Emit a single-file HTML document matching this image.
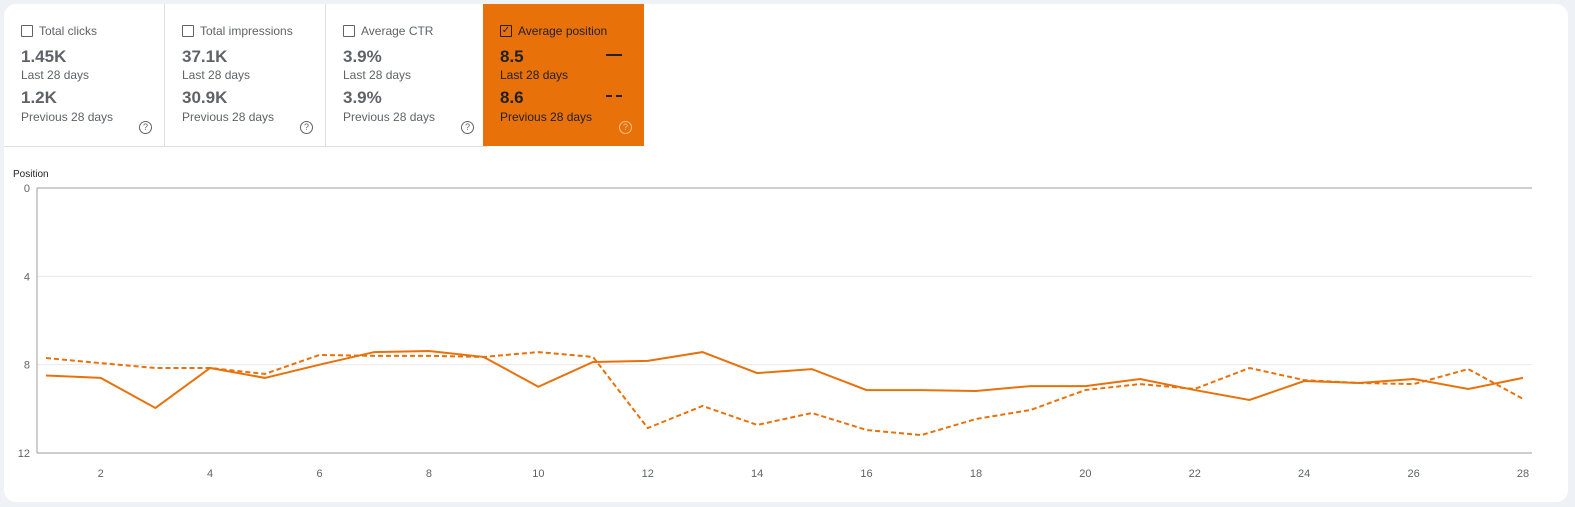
<!DOCTYPE html>
<html><head><meta charset="utf-8"><style>
body{margin:0;width:1575px;height:507px;background:#eef1f6;font-family:"Liberation Sans",sans-serif;overflow:hidden}
.card{position:absolute;left:4px;top:4px;width:1564px;height:498px;background:#fff;border-radius:12px;overflow:hidden}
.tile{position:absolute;top:0;width:160px;height:142px;border-right:1px solid #e0e0e0;border-bottom:1px solid #e0e0e0;color:#5f6368}
.tile .t{position:absolute;left:17px;top:20px;font-size:12px;display:flex;align-items:center}
.cb{width:10px;height:10px;border:1px solid #5f6368;border-radius:1px;margin-right:6px;font-size:10px;line-height:10px;text-align:center}
.v{position:absolute;left:17px;font-size:17px;font-weight:bold}
.l{position:absolute;left:17px;font-size:12px}
.q{position:absolute;right:12px;top:117px;width:11px;height:11px;border:1px solid #5f6368;border-radius:50%;font-size:9px;line-height:11px;text-align:center}
.sel{background:#e8710a;color:#202124;border:none}
.sel .cb{border-color:#202124}
.sel .q{border-color:#f7c08a;color:#f7c08a}
</style></head><body>
<div class="card">
<div class="tile" style="left:0"><div class="t"><span class="cb"></span>Total clicks</div><div class="v" style="top:43px">1.45K</div><div class="l" style="top:64px">Last 28 days</div><div class="v" style="top:84px">1.2K</div><div class="l" style="top:106px">Previous 28 days</div><div class="q">?</div></div>
<div class="tile" style="left:161px"><div class="t"><span class="cb"></span>Total impressions</div><div class="v" style="top:43px">37.1K</div><div class="l" style="top:64px">Last 28 days</div><div class="v" style="top:84px">30.9K</div><div class="l" style="top:106px">Previous 28 days</div><div class="q">?</div></div>
<div class="tile" style="left:322px"><div class="t"><span class="cb"></span>Average CTR</div><div class="v" style="top:43px">3.9%</div><div class="l" style="top:64px">Last 28 days</div><div class="v" style="top:84px">3.9%</div><div class="l" style="top:106px">Previous 28 days</div><div class="q">?</div></div>
<div class="tile sel" style="left:479px;width:161px;height:142px"><div class="t"><span class="cb">✓</span>Average position</div><div class="v" style="top:43px">8.5</div><div class="l" style="top:64px">Last 28 days</div><div class="v" style="top:84px">8.6</div><div class="l" style="top:106px">Previous 28 days</div>
<div style="position:absolute;left:123px;top:50px;width:16px;border-top:2px solid #202124"></div>
<div style="position:absolute;left:123px;top:91px;width:16px;border-top:2px dashed #202124"></div>
<div class="q">?</div></div>
</div>
<svg id="chart" width="1575" height="507" style="position:absolute;left:0;top:0"></svg>
<script>
const days=[1,2,3,4,5,6,7,8,9,10,11,12,13,14,15,16,17,18,19,20,21,22,23,24,25,26,27,28];
const current=[8.49,8.6,9.96,8.15,8.6,8.0,7.43,7.38,7.65,9.0,7.88,7.83,7.43,8.38,8.2,9.15,9.15,9.19,8.97,8.97,8.65,9.15,9.6,8.74,8.83,8.65,9.1,8.6];
const previous=[7.7,7.93,8.15,8.15,8.42,7.56,7.6,7.6,7.65,7.43,7.65,10.87,9.87,10.73,10.19,10.96,11.19,10.46,10.05,9.15,8.88,9.1,8.15,8.7,8.83,8.88,8.2,9.55];
const yTicks=[0,4,8,12];
const xTicks=[2,4,6,8,10,12,14,16,18,20,22,24,26,28];
const svg=document.getElementById('chart'),NS='http://www.w3.org/2000/svg';
const X0=37,X1=1532,Y0=188,Y1=453;
const x=d=>46+(d-1)*(1523-46)/27;
const y=v=>Y0+v*(Y1-Y0)/12;
function mk(t,a){const e=document.createElementNS(NS,t);for(const k in a)e.setAttribute(k,a[k]);svg.appendChild(e);return e;}
let e=mk('text',{x:13,y:177,'font-size':10,fill:'#202124','font-family':'Liberation Sans'});e.textContent='Position';


yTicks.forEach(v=>{
 const g=mk('line',{x1:X0,x2:X1,y1:y(v),y2:y(v),stroke:(v===0||v===12)?'#9e9e9e':'#e8e8e8','stroke-width':1});
 
 
 const t=mk('text',{x:30,y:y(v)+4,'font-size':11,fill:'#5f6368','text-anchor':'end','font-family':'Liberation Sans'});t.textContent=v;
 
 
});
e=mk('line',{x1:X0,x2:X0,y1:Y0,y2:Y1,stroke:'#9e9e9e'});


xTicks.forEach(d=>{
 const t=mk('text',{x:x(d),y:477,'font-size':11,fill:'#5f6368','text-anchor':'middle','font-family':'Liberation Sans'});t.textContent=d;
 
 
});
function line(vals,dash,name){
 const p=mk('polyline',{points:vals.map((v,i)=>x(days[i])+','+y(v)).join(' '),fill:'none',stroke:'#e8710a','stroke-width':2,'stroke-dasharray':dash});
 
 
}
line(previous,'5,3','previous-28-days-line');
line(current,'none','last-28-days-line');
</script>
</body></html>
